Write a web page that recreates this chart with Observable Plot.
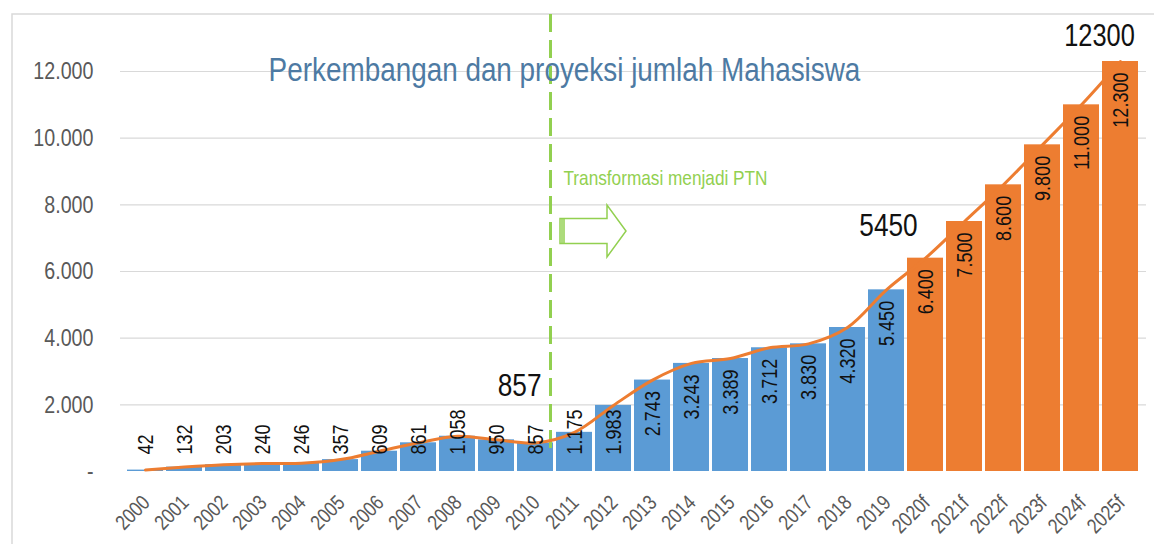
<!DOCTYPE html>
<html><head><meta charset="utf-8">
<script src="https://cdn.jsdelivr.net/npm/d3@7"></script>
<script src="https://cdn.jsdelivr.net/npm/@observablehq/plot@0.6"></script>
<style>
body{margin:0;background:#fff}
#chart{position:relative;width:1154px;height:544px}
</style>
</head><body><div id="chart"></div>
<script>
// ---- data ----
const years = ["2000","2001","2002","2003","2004","2005","2006","2007","2008","2009","2010","2011","2012","2013","2014","2015","2016","2017","2018","2019","2020f","2021f","2022f","2023f","2024f","2025f"];
const values = [42,132,203,240,246,357,609,861,1058,950,857,1175,1983,2743,3243,3389,3712,3830,4320,5450,6400,7500,8600,9800,11000,12300];
const yTicks = [0,2000,4000,6000,8000,10000,12000];
const title = "Perkembangan dan proyeksi jumlah Mahasiswa";
const eventLabel = "Transformasi menjadi PTN";
const eventYear = "2011";
const callout1 = "2010", callout2 = "2019", callout3 = "2025f";

const FONT = "'Liberation Sans',Arial,sans-serif";
const SX = 0.82; // narrow the glyphs like a condensed face
const BLUE = "#5B9BD5", ORANGE = "#ED7D31", GREEN = "#92D050";
const fmt = v => v === 0 ? "-" : d3.format(",")(v).replace(/,/g, ".");
const data = years.map((year, i) => ({year, value: values[i], kind: year.endsWith("f") ? "forecast" : "actual"}));
const pick = y => data.filter(d => d.year === y);

const chart = Plot.plot({
  width: 1154, height: 544,
  marginLeft: 120, marginRight: 8, marginTop: 71, marginBottom: 73,
  style: {fontFamily: FONT, fontSize: "24px", color: "#595959", background: "transparent", overflow: "visible"},
  x: {domain: years, paddingInner: 0.07, paddingOuter: 0.035, axis: null},
  y: {domain: [0, 12000], ticks: yTicks, tickFormat: fmt, tickSize: 0, tickPadding: 27, label: null},
  color: {domain: ["actual", "forecast"], range: [BLUE, ORANGE]},
  marks: [
    Plot.ruleY(yTicks.slice(1), {stroke: "#d9d9d9", strokeWidth: 1.2}),
    Plot.barY(data, {x: "year", y: "value", fill: "kind"}),
    Plot.ruleX([eventYear], {x: d => d, y1: 690, y2: 13750, dx: -24, stroke: GREEN, strokeWidth: 3, strokeDasharray: "18,8"}),
    Plot.line(data, {x: "year", y: "value", curve: "catmull-rom", stroke: ORANGE, strokeWidth: 3}),
    // value labels
    Plot.text(data.filter(d => d.value < 2000), {x: "year", frameAnchor: "bottom", text: d => fmt(d.value), rotate: -90, textAnchor: "start", lineAnchor: "middle", dy: -17, fill: "#111", fontSize: 22}),
    Plot.text(data.filter(d => d.value >= 2000), {x: "year", y: "value", text: d => fmt(d.value), rotate: -90, textAnchor: "end", lineAnchor: "middle", dy: 11, fill: "#111", fontSize: 22}),
    // x labels
    Plot.text(data, {x: "year", frameAnchor: "bottom", text: "year", rotate: -45, textAnchor: "end", lineAnchor: "top", dx: -5, dy: 22, fill: "#595959", fontSize: 21}),
    // callouts
    Plot.text(pick(callout1), {x: "year", y: "value", text: d => String(d.value), textAnchor: "end", lineAnchor: "bottom", dx: 6, dy: -47, fill: "#111", fontSize: 32}),
    Plot.text(pick(callout2), {x: "year", y: "value", text: d => String(d.value), textAnchor: "middle", lineAnchor: "bottom", dx: 2, dy: -54, fill: "#111", fontSize: 32}),
    Plot.text(pick(callout3), {x: "year", y: "value", text: d => String(d.value), textAnchor: "middle", lineAnchor: "bottom", dx: -21, dy: -16, fill: "#111", fontSize: 31}),
    // event label
    Plot.text([eventLabel], {x: () => eventYear, y: () => 8600, text: d => d, textAnchor: "start", lineAnchor: "bottom", dx: -11, fill: GREEN, fontSize: 21}),
    // title
    Plot.text([title], {frameAnchor: "top-left", text: d => d, textAnchor: "middle", lineAnchor: "bottom", dx: 444, dy: 9, fill: "#4d7aa3", fontSize: 34})
  ]
});
document.getElementById("chart").appendChild(chart);

const svg = d3.select(chart);
// condense every text along its own writing direction
svg.selectAll("text").each(function () {
  const t = d3.select(this);
  const num = a => { const v = t.attr(a); return v != null && /^-?[\d.]+$/.test(v.trim()) ? +v : null; };
  const x = num("x"), y = num("y");
  if (x != null) t.attr("x", null);
  if (y != null) t.attr("y", null);
  const tr = t.attr("transform") || "";
  t.attr("transform", `${tr} translate(${x || 0},${y || 0}) scale(${SX},1)`);
});
// frame border
svg.insert("path", ":first-child").attr("d", "M12,544V14H1154").attr("fill", "none").attr("stroke", "#d9d9d9").attr("stroke-width", 1.5);
// block arrow next to the event line
const xs = chart.scale("x"), ys = chart.scale("y");
const cx = xs.apply(eventYear) + xs.bandwidth / 2, cy = ys.apply(7200);
const g = svg.append("g").attr("transform", `translate(${cx},${cy})`).attr("fill", "#fff").attr("stroke", GREEN).attr("stroke-width", 1.5);
g.append("path").attr("d", "M-14,-12.5H33V-26L52,0L33,26V12.5H-14Z");
g.append("path").attr("d", "M-12,-12.5V12.5M-10,-12.5V12.5").attr("fill", "none");
</script></body></html>
